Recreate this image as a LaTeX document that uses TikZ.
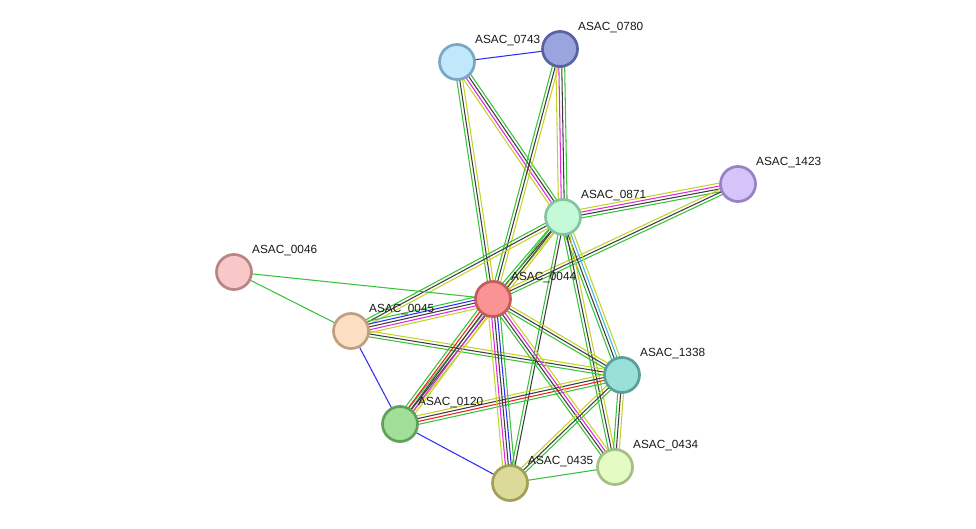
\documentclass[tikz,border=0pt]{standalone}
\usepackage{fontspec}
\setmainfont{Liberation Sans}
\usetikzlibrary{calc,backgrounds}
\definecolor{eg}{RGB}{55,195,55}
\definecolor{ek}{RGB}{60,60,60}
\definecolor{ey}{RGB}{196,210,40}
\definecolor{em}{RGB}{222,40,222}
\definecolor{eb}{RGB}{45,45,240}
\definecolor{ec}{RGB}{60,185,230}
\definecolor{er}{RGB}{240,30,30}
\definecolor{f0743}{HTML}{C0E8FA}\definecolor{d0743}{HTML}{7AA8C4}
\definecolor{f0780}{HTML}{9AA5E0}\definecolor{d0780}{HTML}{5862A0}
\definecolor{f1423}{HTML}{D4C4FA}\definecolor{d1423}{HTML}{9A80C4}
\definecolor{f0871}{HTML}{C4FAD8}\definecolor{d0871}{HTML}{84C4A0}
\definecolor{f0046}{HTML}{F8C8C8}\definecolor{d0046}{HTML}{B88484}
\definecolor{f0044}{HTML}{FA9494}\definecolor{d0044}{HTML}{C45C5C}
\definecolor{f0045}{HTML}{FCDEC0}\definecolor{d0045}{HTML}{C0A080}
\definecolor{f1338}{HTML}{98E0D8}\definecolor{d1338}{HTML}{5AA098}
\definecolor{f0120}{HTML}{A0E098}\definecolor{d0120}{HTML}{60A058}
\definecolor{f0435}{HTML}{DCDA98}\definecolor{d0435}{HTML}{A0A058}
\definecolor{f0434}{HTML}{E4FCC4}\definecolor{d0434}{HTML}{A4C084}
\tikzset{
  prot/.style={circle,minimum size=35pt,inner sep=0pt,line width=2.7pt,fill=f#1,draw=d#1},
  lab/.style={anchor=west,font=\fontsize{11.8}{13}\selectfont,text=black!90,inner sep=0pt},
  edge/.style={line width=1.05pt}
}
\newcommand\bund[3]{%
  \foreach \c [count=\i] in {#3}{\global\let\bn\i}%
  \foreach \c [count=\i] in {#3}{%
    \pgfmathsetmacro\off{(\i-(\bn+1)/2)*2.9}%
    \draw[edge,draw=\c] ($(#1.center)!\off pt!90:(#2.center)$) -- ($(#2.center)!\off pt!-90:(#1.center)$);
  }%
}
\begin{document}
\begin{tikzpicture}[x=1pt,y=-1pt]
\useasboundingbox (0,0) rectangle (976,529);
\node[prot=0743] (n0743) at (457,62) {};
\node[prot=0780] (n0780) at (560,49) {};
\node[prot=1423] (n1423) at (738,184) {};
\node[prot=0871] (n0871) at (563,217) {};
\node[prot=0046] (n0046) at (234,272) {};
\node[prot=0044] (n0044) at (493,299) {};
\node[prot=0045] (n0045) at (351,331) {};
\node[prot=1338] (n1338) at (622,375) {};
\node[prot=0120] (n0120) at (400,424) {};
\node[prot=0435] (n0435) at (510,483) {};
\node[prot=0434] (n0434) at (615,467) {};
\foreach \n in {0743,0780,1423,0871,0046,0044,0045,1338,0120,0435,0434}{
  \node[lab] (l\n) at ($(n\n.center)+(18,-21)$) {ASAC\_\n};
}
\begin{pgfonlayer}{background}
\fill[white] (0,0) rectangle (976,529);
\bund{n0743}{n0780}{eb}
\bund{n0743}{n0044}{eg,ek,ey}
\bund{n0743}{n0871}{ey,em,ek,eg}
\bund{n0780}{n0044}{eg,ek,ey}
\bund{n0780}{n0871}{ey,em,ek,eg}
\bund{n0871}{n1423}{eg,ek,em,ey}
\bund{n0044}{n1423}{eg,ek,ey}
\bund{n0871}{n0044}{eg,ek,ey}
\bund{n0871}{n0045}{eg,ek,ey}
\bund{n0871}{n0120}{eg,ek,ey}
\bund{n0871}{n1338}{eg,ek,ec,ey}
\bund{n0871}{n0434}{eg,ek,ey}
\bund{n0871}{n0435}{eg,ek}
\bund{n0046}{n0044}{eg}
\bund{n0046}{n0045}{eg}
\bund{n0045}{n0044}{ey,em,ek,eb,eg}
\bund{n0045}{n1338}{eg,ek,ey}
\bund{n0045}{n0120}{eb}
\bund{n0120}{n0044}{ey,em,ek,er,eg}
\bund{n0120}{n1338}{eg,er,ek,ey}
\bund{n0120}{n0435}{eb}
\bund{n0044}{n0435}{ey,em,ek,eb,eg}
\bund{n0044}{n0434}{eg,ek,em,ey}
\bund{n0044}{n1338}{eg,ek,ey}
\bund{n0435}{n1338}{eg,ek,ey}
\bund{n1338}{n0434}{eg,ek,ey}
\bund{n0435}{n0434}{eg}
\end{pgfonlayer}
\end{tikzpicture}
\end{document}
